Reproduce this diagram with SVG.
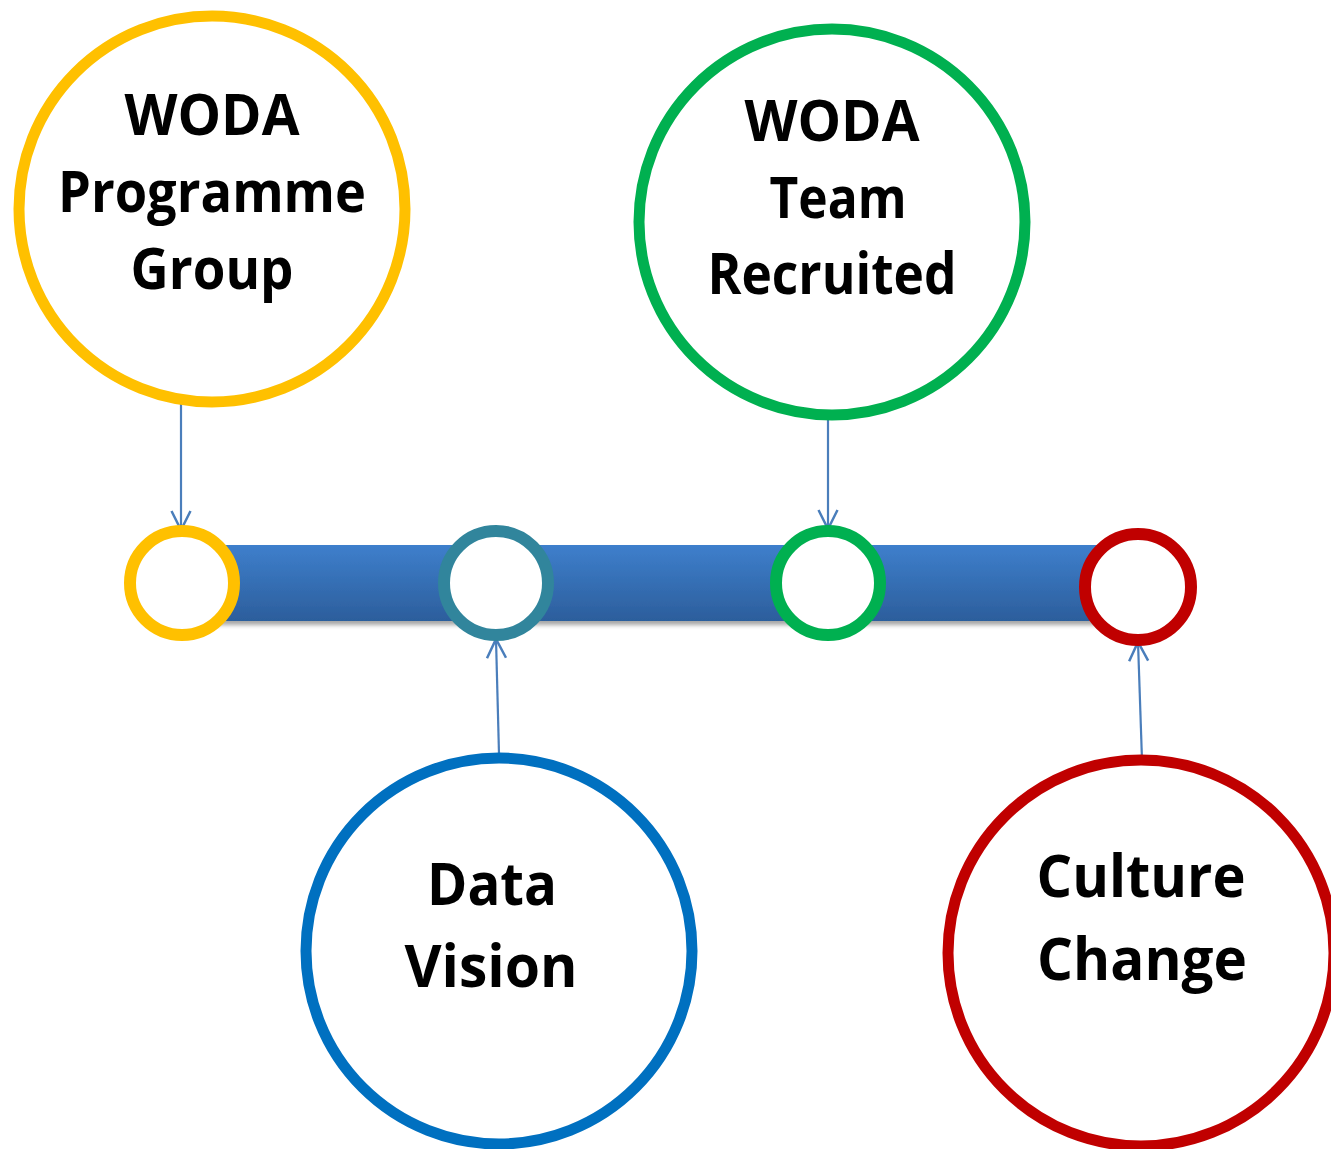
<svg xmlns="http://www.w3.org/2000/svg" width="1331" height="1149" viewBox="0 0 1331 1149">
  <defs>
    <linearGradient id="barGrad" x1="0" y1="0" x2="0" y2="1">
      <stop offset="0" stop-color="#3E7FCC"/>
      <stop offset="1" stop-color="#2C5E9C"/>
    </linearGradient>
    <filter id="shadow" x="-5%" y="-20%" width="110%" height="150%">
      <feDropShadow dx="0" dy="4" stdDeviation="2" flood-color="#000" flood-opacity="0.35"/>
    </filter>
    <marker id="arrow" viewBox="0 0 24 24" refX="22" refY="12" markerWidth="24" markerHeight="24" markerUnits="userSpaceOnUse" orient="auto">
      <path d="M3,2.5 L22,12 L3,21.5" fill="none" stroke="#4A7EBB" stroke-width="2.5"/>
    </marker>
  </defs>
  <style>
    .big { fill: #FFFFFF; stroke-width: 11; }
    .small { fill: #FFFFFF; stroke-width: 12; }
    .lbl { font-family: "Open Sans", "Liberation Sans", sans-serif; font-weight: bold; fill: #000000; text-anchor: middle; }
    .t1 { font-size: 57px; }
    .t2 { font-size: 59px; }
    .conn { stroke: #4A7EBB; stroke-width: 2.2; fill: none; marker-end: url(#arrow); }
  </style>
  <rect width="1331" height="1149" fill="#FFFFFF"/>

  <g id="timeline-bar">
    <rect x="182" y="545" width="956" height="76" fill="url(#barGrad)" filter="url(#shadow)"/>
  </g>

  <g id="connectors">
    <line class="conn" x1="181" y1="404" x2="181" y2="530"/>
    <line class="conn" x1="828" y1="420" x2="828" y2="529"/>
    <line class="conn" x1="499" y1="754" x2="496" y2="639"/>
    <line class="conn" x1="1142" y1="760" x2="1138" y2="642"/>
  </g>

  <g id="marker-yellow">
    <circle class="small" cx="182" cy="583" r="52" stroke="#FFC000"/>
  </g>
  <g id="marker-teal">
    <circle class="small" cx="496" cy="583" r="52" stroke="#31859C"/>
  </g>
  <g id="marker-green">
    <circle class="small" cx="828" cy="583" r="52" stroke="#00B050"/>
  </g>
  <g id="marker-red">
    <circle class="small" cx="1138" cy="587" r="53" stroke="#C00000"/>
  </g>

  <g id="woda-programme-group">
    <circle class="big" cx="212" cy="209" r="193" stroke="#FFC000"/>
    <text class="lbl t1" x="212" y="135" textLength="175" lengthAdjust="spacingAndGlyphs">WODA</text>
    <text class="lbl t1" x="212" y="212" textLength="308" lengthAdjust="spacingAndGlyphs">Programme</text>
    <text class="lbl t1" x="212" y="289" textLength="163" lengthAdjust="spacingAndGlyphs">Group</text>
  </g>

  <g id="woda-team-recruited">
    <circle class="big" cx="832" cy="222" r="193" stroke="#00B050"/>
    <text class="lbl t1" x="832" y="141" textLength="175" lengthAdjust="spacingAndGlyphs">WODA</text>
    <text class="lbl t1" x="838" y="218" textLength="137" lengthAdjust="spacingAndGlyphs">Team</text>
    <text class="lbl t1" x="832" y="294" textLength="249" lengthAdjust="spacingAndGlyphs">Recruited</text>
  </g>

  <g id="data-vision">
    <circle class="big" cx="499" cy="951" r="193" stroke="#0070C0"/>
    <text class="lbl t2" x="492" y="905" textLength="130" lengthAdjust="spacingAndGlyphs">Data</text>
    <text class="lbl t2" x="491" y="987" textLength="173" lengthAdjust="spacingAndGlyphs">Vision</text>
  </g>

  <g id="culture-change">
    <circle class="big" cx="1141" cy="953" r="193" stroke="#C00000"/>
    <text class="lbl t2" x="1141" y="897" textLength="209" lengthAdjust="spacingAndGlyphs">Culture</text>
    <text class="lbl t2" x="1142" y="980" textLength="210" lengthAdjust="spacingAndGlyphs">Change</text>
  </g>
</svg>
